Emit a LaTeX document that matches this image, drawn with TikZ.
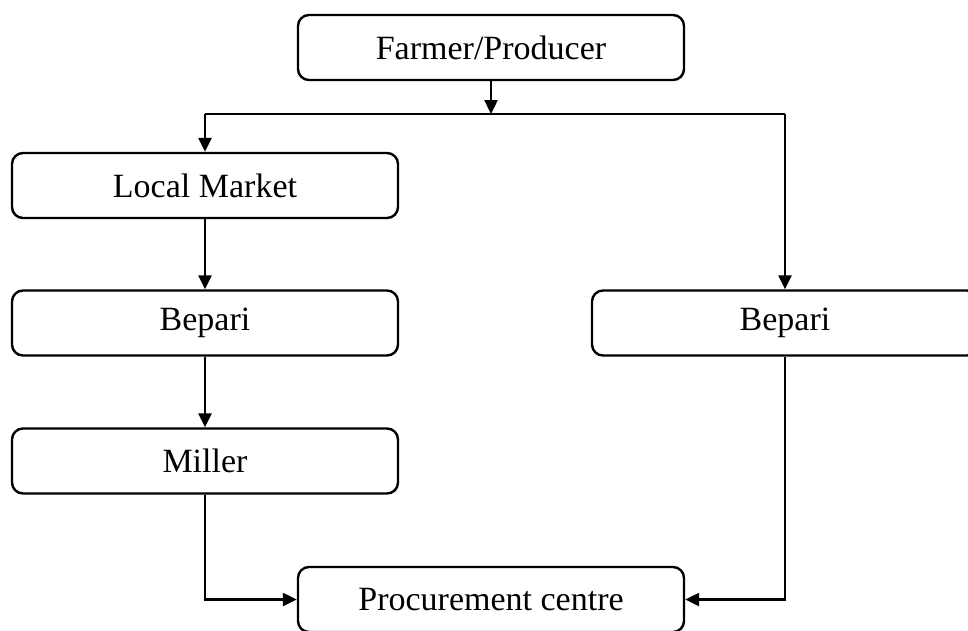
\documentclass[tikz,border=0pt]{standalone}
\usepackage{fontspec}
\setmainfont{Liberation Serif}
\usetikzlibrary{arrows.meta}

\tikzset{
  stage/.style={draw, line width=2.4pt, rounded corners=11pt,
    minimum width=386pt, minimum height=65pt, font=\fontsize{34}{38}\selectfont},
  flow/.style={line width=2.4pt, -{Triangle[width=13pt,length=14pt]}}
}

\begin{document}
\begin{tikzpicture}[x=1pt,y=-1pt]
\useasboundingbox (0,0) rectangle (968,630);

\node[stage] (farmer) at (491,47.5) {Farmer/Producer};
\node[stage] (market) at (205,185.5) {Local Market};
\node[stage] (bepL) at (205,323) {Bepari};
\node[stage] (bepR) at (785,323) {Bepari};
\node[stage] (miller) at (205,461) {Miller};
\node[stage] (proc) at (491,599.5) {Procurement centre};

% split below the farmer
\coordinate (split) at (491,114);
\coordinate (splitL) at (205,114);
\coordinate (splitR) at (785,114);
\draw[flow] (farmer) -- (split);
\draw[line width=2.4pt] (splitL) -- (splitR);
\draw[flow] (splitL) -- (market);
\draw[flow] (splitR) -- (bepR);

% left chain
\draw[flow] (market) -- (bepL);
\draw[flow] (bepL) -- (miller);
\draw[flow] (miller.south) |- (proc.west);

% right chain
\draw[flow] (bepR.south) |- (proc.east);
\end{tikzpicture}
\end{document}
